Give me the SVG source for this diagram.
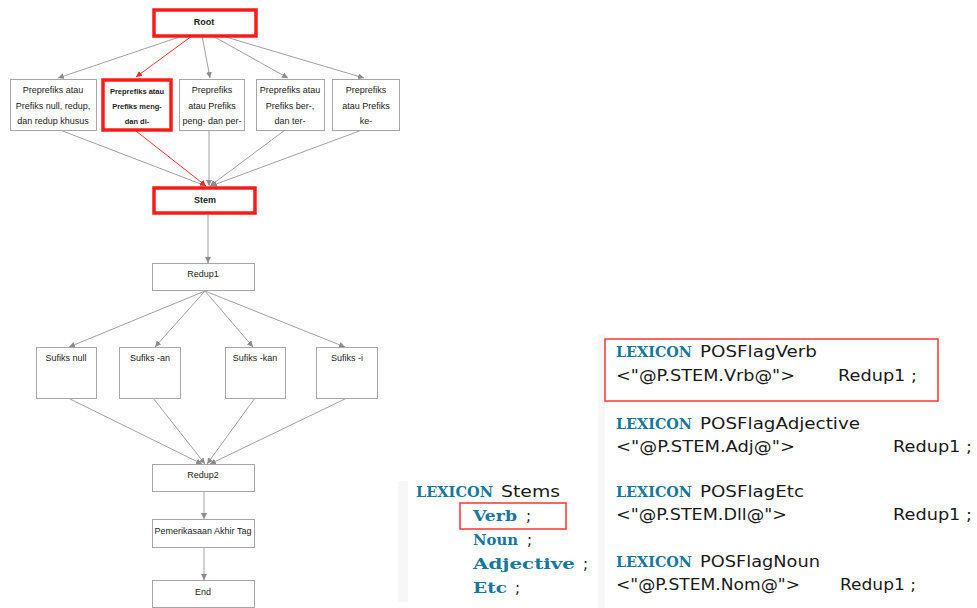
<svg xmlns="http://www.w3.org/2000/svg" width="977" height="608" viewBox="0 0 977 608">
  <style>
    .box { fill: #ffffff; stroke: #a6a6a6; stroke-width: 1; }
    .hot { fill: #ffffff; stroke: #ff1a1a; stroke-width: 3.5; }
    .lbl { font-family: "Liberation Sans", Arial, sans-serif; font-size: 9px; fill: #222222; text-anchor: middle; }
    .bold { font-weight: bold; }
    .small { font-size: 7.5px; }
    .edge { stroke: #a0a0a0; stroke-width: 1; fill: none; marker-end: url(#ah); }
    .edge-hot { stroke: #ff3030; stroke-width: 1; fill: none; marker-end: url(#ahr); }
    .kw { font-family: "DejaVu Serif", "Liberation Serif", serif; font-weight: bold; font-size: 15px; fill: #17789a; }
    .code { font-family: "DejaVu Sans", Verdana, sans-serif; font-size: 15px; fill: #1a1a1a; }
    .fringe { fill: #f7f7f7; }
  </style>
  <defs>
    <marker id="ah" viewBox="0 0 10 10" refX="10" refY="5" markerWidth="6" markerHeight="6" markerUnits="userSpaceOnUse" orient="auto">
      <path d="M0,0 L10,5 L0,10 z" fill="#8c8c8c"/>
    </marker>
    <marker id="ahr" viewBox="0 0 10 10" refX="10" refY="5" markerWidth="6" markerHeight="6" markerUnits="userSpaceOnUse" orient="auto">
      <path d="M0,0 L10,5 L0,10 z" fill="#ff2020"/>
    </marker>
  </defs>

  <rect width="977" height="608" fill="#ffffff"/>

  <!-- connectors -->
  <g id="connectors">
    <line class="edge" x1="200" y1="30" x2="58" y2="78"/>
    <line class="edge-hot" x1="200" y1="30" x2="136" y2="77"/>
    <line class="edge" x1="201" y1="30" x2="210" y2="78"/>
    <line class="edge" x1="202" y1="30" x2="288" y2="78"/>
    <line class="edge" x1="202" y1="30" x2="364" y2="78"/>

    <line class="edge" x1="60" y1="130" x2="206" y2="186"/>
    <line class="edge" x1="209" y1="130" x2="209" y2="186"/>
    <line class="edge" x1="285" y1="130" x2="210" y2="186"/>
    <line class="edge" x1="362" y1="130" x2="211" y2="186"/>
    <line class="edge-hot" x1="136" y1="131" x2="206" y2="186"/>

    <line class="edge" x1="208" y1="215" x2="208" y2="263"/>

    <line class="edge" x1="205" y1="291" x2="69" y2="347"/>
    <line class="edge" x1="205" y1="291" x2="155" y2="347"/>
    <line class="edge" x1="205" y1="291" x2="253" y2="347"/>
    <line class="edge" x1="205" y1="291" x2="345" y2="347"/>

    <line class="edge" x1="68" y1="398" x2="202" y2="464"/>
    <line class="edge" x1="153" y1="398" x2="205" y2="464"/>
    <line class="edge" x1="255" y1="398" x2="207" y2="464"/>
    <line class="edge" x1="347" y1="398" x2="210" y2="464"/>

    <line class="edge" x1="204" y1="492" x2="204" y2="519"/>
    <line class="edge" x1="204" y1="548" x2="204" y2="580"/>
  </g>

  <!-- flowchart nodes -->
  <g id="root">
    <rect class="hot" x="154" y="10" width="102" height="26"/>
    <text class="lbl bold" x="204" y="25">Root</text>
  </g>

  <g id="pre-null">
    <rect class="box" x="10.5" y="79.5" width="86" height="51"/>
    <text class="lbl" x="53" y="93">Preprefiks atau</text>
    <text class="lbl" x="53" y="108.5">Prefiks null, redup,</text>
    <text class="lbl" x="53" y="124">dan redup khusus</text>
  </g>

  <g id="pre-meng">
    <rect class="hot" x="103" y="80" width="68" height="50"/>
    <text class="lbl bold small" x="137" y="94">Preprefiks atau</text>
    <text class="lbl bold small" x="137" y="109">Prefiks meng-</text>
    <text class="lbl bold small" x="137" y="124">dan di-</text>
  </g>

  <g id="pre-peng">
    <rect class="box" x="179.5" y="79.5" width="65" height="51"/>
    <text class="lbl" x="212" y="93">Preprefiks</text>
    <text class="lbl" x="212" y="108.5">atau Prefiks</text>
    <text class="lbl" x="212" y="124">peng- dan per-</text>
  </g>

  <g id="pre-ber">
    <rect class="box" x="256.5" y="79.5" width="68" height="51"/>
    <text class="lbl" x="290" y="93">Preprefiks atau</text>
    <text class="lbl" x="290" y="108.5">Prefiks ber-,</text>
    <text class="lbl" x="290" y="124">dan ter-</text>
  </g>

  <g id="pre-ke">
    <rect class="box" x="332.5" y="79.5" width="67" height="51"/>
    <text class="lbl" x="366" y="93">Preprefiks</text>
    <text class="lbl" x="366" y="108.5">atau Prefiks</text>
    <text class="lbl" x="366" y="124">ke-</text>
  </g>

  <g id="stem">
    <rect class="hot" x="154" y="188" width="101" height="25"/>
    <text class="lbl bold" x="205" y="203">Stem</text>
  </g>

  <g id="redup1">
    <rect class="box" x="152.5" y="263.5" width="102" height="27"/>
    <text class="lbl" x="203" y="277">Redup1</text>
  </g>

  <g id="suf-null">
    <rect class="box" x="36.5" y="347.5" width="60" height="51"/>
    <text class="lbl" x="66" y="361">Sufiks null</text>
  </g>

  <g id="suf-an">
    <rect class="box" x="119.5" y="347.5" width="61" height="51"/>
    <text class="lbl" x="150" y="361">Sufiks -an</text>
  </g>

  <g id="suf-kan">
    <rect class="box" x="225.5" y="347.5" width="60" height="51"/>
    <text class="lbl" x="255" y="361">Sufiks -kan</text>
  </g>

  <g id="suf-i">
    <rect class="box" x="316.5" y="347.5" width="61" height="51"/>
    <text class="lbl" x="347" y="361">Sufiks -i</text>
  </g>

  <g id="redup2">
    <rect class="box" x="152.5" y="464.5" width="102" height="27"/>
    <text class="lbl" x="203" y="478">Redup2</text>
  </g>

  <g id="tag-check">
    <rect class="box" x="152.5" y="519.5" width="102" height="28"/>
    <text class="lbl" x="203" y="534">Pemerikasaan Akhir Tag</text>
  </g>

  <g id="end">
    <rect class="box" x="152.5" y="580.5" width="102" height="27"/>
    <text class="lbl" x="203" y="595">End</text>
  </g>

  <!-- lexicon: Stems -->
  <g id="lexicon-stems">
    <rect class="fringe" x="398" y="481" width="10" height="121"/>
    <text class="kw" x="416" y="497" textLength="77" lengthAdjust="spacingAndGlyphs">LEXICON</text>
    <text class="code" x="501" y="497" textLength="59" lengthAdjust="spacingAndGlyphs">Stems</text>
    <rect x="460" y="503" width="106" height="26" fill="none" stroke="#ff3333" stroke-width="1.5"/>
    <text class="kw" x="473" y="521" textLength="44" lengthAdjust="spacingAndGlyphs">Verb</text>
    <text class="code" x="526" y="521">;</text>
    <text class="kw" x="473" y="545" textLength="45" lengthAdjust="spacingAndGlyphs">Noun</text>
    <text class="code" x="527" y="545">;</text>
    <text class="kw" x="473" y="569" textLength="102" lengthAdjust="spacingAndGlyphs">Adjective</text>
    <text class="code" x="583" y="569">;</text>
    <text class="kw" x="473" y="593" textLength="34" lengthAdjust="spacingAndGlyphs">Etc</text>
    <text class="code" x="515" y="593">;</text>
  </g>

  <!-- lexicon: POS flags -->
  <g id="lexicon-posflags">
    <rect class="fringe" x="598" y="334" width="7" height="274"/>

    <rect x="605" y="339" width="333" height="62" fill="none" stroke="#ff3333" stroke-width="1.5"/>
    <text class="kw" x="616" y="357" textLength="76" lengthAdjust="spacingAndGlyphs">LEXICON</text>
    <text class="code" x="700" y="357" textLength="117" lengthAdjust="spacingAndGlyphs">POSFlagVerb</text>
    <text class="code" x="616" y="381" textLength="179" lengthAdjust="spacingAndGlyphs">&lt;"@P.STEM.Vrb@"&gt;</text>
    <text class="code" x="838" y="381" textLength="79" lengthAdjust="spacingAndGlyphs">Redup1 ;</text>

    <text class="kw" x="616" y="429" textLength="76" lengthAdjust="spacingAndGlyphs">LEXICON</text>
    <text class="code" x="700" y="429" textLength="160" lengthAdjust="spacingAndGlyphs">POSFlagAdjective</text>
    <text class="code" x="616" y="452" textLength="179" lengthAdjust="spacingAndGlyphs">&lt;"@P.STEM.Adj@"&gt;</text>
    <text class="code" x="893" y="452" textLength="79" lengthAdjust="spacingAndGlyphs">Redup1 ;</text>

    <text class="kw" x="616" y="497" textLength="76" lengthAdjust="spacingAndGlyphs">LEXICON</text>
    <text class="code" x="700" y="497" textLength="104" lengthAdjust="spacingAndGlyphs">POSFlagEtc</text>
    <text class="code" x="616" y="520" textLength="171" lengthAdjust="spacingAndGlyphs">&lt;"@P.STEM.Dll@"&gt;</text>
    <text class="code" x="893" y="520" textLength="79" lengthAdjust="spacingAndGlyphs">Redup1 ;</text>

    <text class="kw" x="616" y="567" textLength="76" lengthAdjust="spacingAndGlyphs">LEXICON</text>
    <text class="code" x="700" y="567" textLength="120" lengthAdjust="spacingAndGlyphs">POSFlagNoun</text>
    <text class="code" x="616" y="590" textLength="184" lengthAdjust="spacingAndGlyphs">&lt;"@P.STEM.Nom@"&gt;</text>
    <text class="code" x="840" y="590" textLength="76" lengthAdjust="spacingAndGlyphs">Redup1 ;</text>
  </g>
</svg>
